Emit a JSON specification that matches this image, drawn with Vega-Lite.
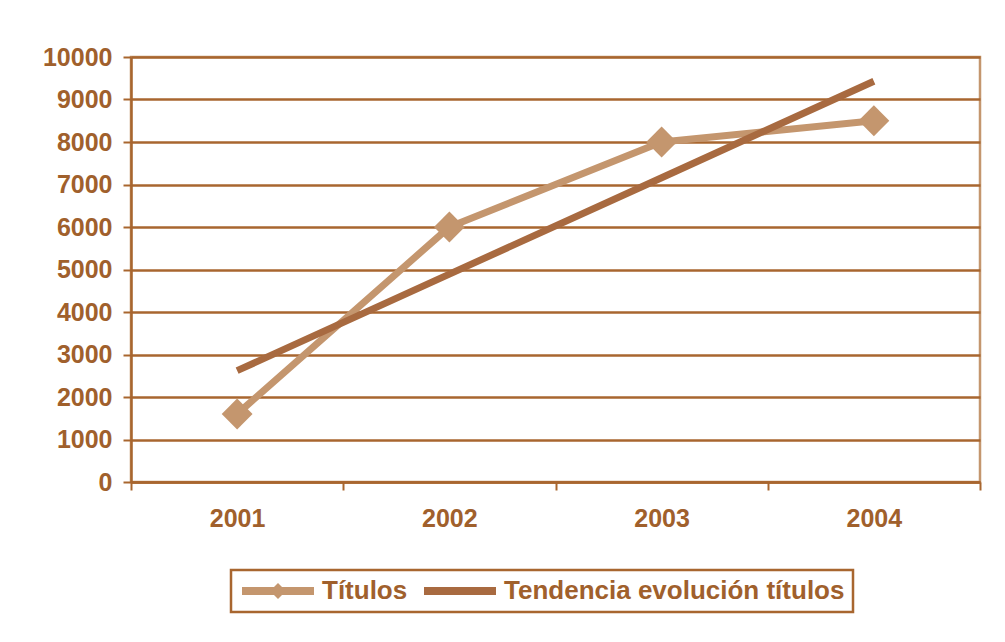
{
  "$schema": "https://vega.github.io/schema/vega-lite/v6.json",
  "autosize": {"type": "none"},
  "padding": {"left": 131, "top": 57, "right": 25, "bottom": 160},
  "width": 849,
  "height": 425,
  "background": "white",
  "data": {
    "values": [
      {"year": "2001", "series": "Títulos", "value": 1600},
      {"year": "2002", "series": "Títulos", "value": 6000},
      {"year": "2003", "series": "Títulos", "value": 8000},
      {"year": "2004", "series": "Títulos", "value": 8500},
      {"year": "2001", "series": "Tendencia evolución títulos", "value": 2620},
      {"year": "2002", "series": "Tendencia evolución títulos", "value": 4890},
      {"year": "2003", "series": "Tendencia evolución títulos", "value": 7160},
      {"year": "2004", "series": "Tendencia evolución títulos", "value": 9430}
    ]
  },
  "encoding": {
    "x": {
      "field": "year", "type": "ordinal", "title": null,
      "scale": {"type": "band", "paddingInner": 0, "paddingOuter": 0},
      "axis": {
        "labelAngle": 0, "tickBand": "extent", "tickSize": 8, "tickWidth": 2,
        "labelPadding": 16, "domainWidth": 2.5, "grid": false
      }
    },
    "y": {
      "field": "value", "type": "quantitative", "title": null,
      "scale": {"domain": [0, 10000], "nice": false},
      "axis": {
        "values": [0, 1000, 2000, 3000, 4000, 5000, 6000, 7000, 8000, 9000, 10000],
        "format": "d",
        "tickSize": 8, "tickWidth": 2, "labelPadding": 11, "domainWidth": 2.5,
        "grid": true, "gridWidth": 2.5, "gridColor": "#a8662f", "gridOpacity": 1
      }
    }
  },
  "layer": [
    {
      "mark": {"type": "line", "strokeWidth": 7, "strokeJoin": "round", "strokeCap": "butt"},
      "encoding": {
        "color": {
          "field": "series", "type": "nominal",
          "scale": {
            "domain": ["Títulos", "Tendencia evolución títulos"],
            "range": ["#c4966e", "#a86a40"]
          },
          "legend": {
            "orient": "none",
            "legendX": 100,
            "legendY": 513,
            "direction": "horizontal",
            "title": null,
            "symbolSize": 400,
            "labelOffset": 57,
            "columnPadding": 13,
            "padding": 8,
            "strokeColor": "#a8662f",
            "labelFontSize": 26,
            "labelFont": "Liberation Sans",
            "labelFontWeight": "bold",
            "labelColor": "#a0602c",
            "labelLimit": 600,
            "encode": {
              "symbols": {
                "update": {
                  "shape": {"signal": "datum.value === 'Títulos' ? 'M-1,-0.4H6.2V0.4H-1Z M1.8,0L2.6,-0.8L3.4,0L2.6,0.8Z' : 'M-1,-0.4H6.2V0.4H-1Z'"},
                  "fill": {"scale": "color", "field": "value"},
                  "stroke": {"value": "transparent"},
                  "strokeWidth": {"value": 0},
                  "opacity": {"value": 1}
                }
              }
            }
          }
        }
      }
    },
    {
      "transform": [{"filter": "datum.series === 'Títulos'"}],
      "mark": {"type": "point", "shape": "diamond", "filled": true, "size": 950, "opacity": 1, "color": "#c4966e"}
    }
  ],
  "config": {
    "view": {"stroke": "#c4966e", "strokeWidth": 2.5},
    "axis": {
      "domainColor": "#a8662f",
      "tickColor": "#a8662f",
      "labelColor": "#a0602c",
      "labelFont": "Liberation Sans",
      "labelFontWeight": "bold",
      "labelFontSize": 25
    },
    "legend": {"strokeWidth": 2.5}
  }
}
